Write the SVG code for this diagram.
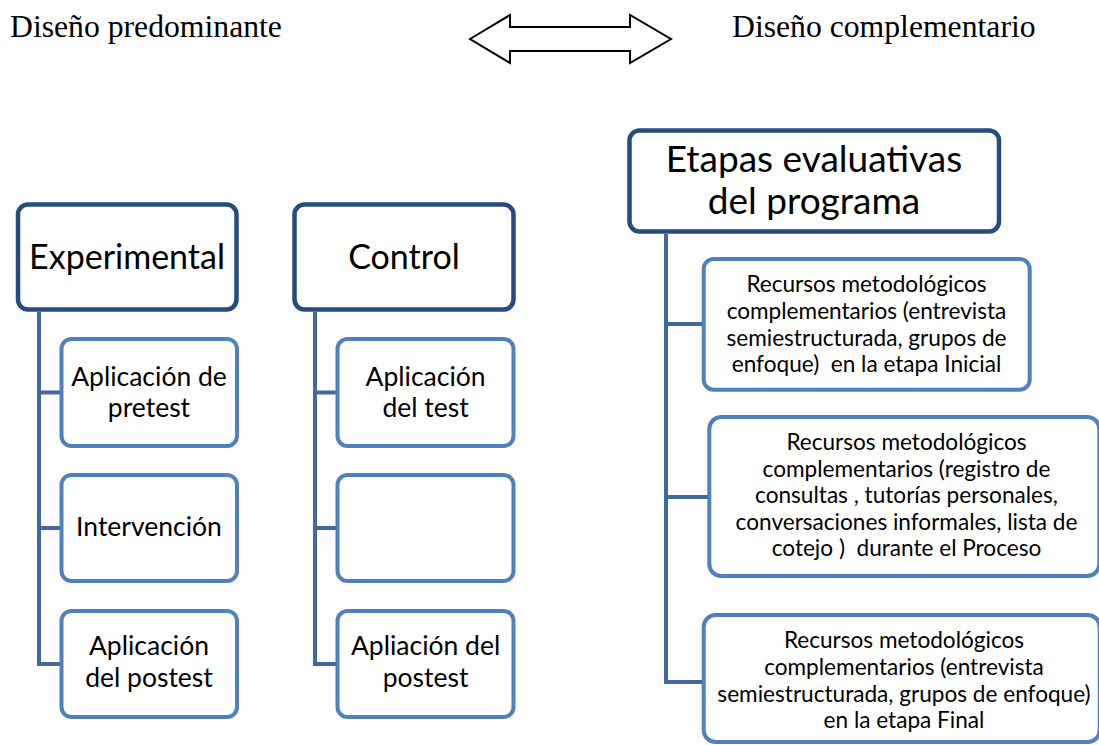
<svg xmlns="http://www.w3.org/2000/svg" width="1099" height="745" viewBox="0 0 1099 745">
<style>
.ttl{font-family:"Liberation Serif","Times New Roman",serif;font-size:31.7px;fill:#000}
.hdr{fill:#fff;stroke:#264b7e;stroke-width:4.5}
.chd{fill:#fff;stroke:#5081bd;stroke-width:4}
.con{fill:none;stroke:#41699e;stroke-width:4;stroke-linejoin:miter}
.t{font-family:Lato,"Noto Sans",sans-serif;fill:#000;text-anchor:middle;white-space:pre}
.big{font-size:34px}
.mid{font-size:26.5px}
.sm{font-size:22.6px}
</style>
<rect width="1099" height="745" fill="#fff"/>
<text class="ttl" x="10" y="37">Diseño predominante</text>
<text class="ttl" x="732" y="37" font-size="32.4">Diseño complementario</text>
<polygon points="470,39 510,15 510,27 630,27 630,15 671,39 630,63 630,51 510,51 510,63" fill="#fff" stroke="#000" stroke-width="2" stroke-linejoin="miter"/>

<g id="connectors">
<path class="con" d="M39,312 V664 H62 M39,392.5 H62 M39,528 H62"/>
<path class="con" d="M315,312 V664 H338 M315,392.5 H338 M315,528 H338"/>
<path class="con" d="M666,234 V682 H704 M666,324 H704 M666,497 H710"/>
</g>

<g id="experimental">
<rect class="hdr" x="18" y="204.5" width="218.5" height="105" rx="10"/>
<text class="t big" x="127" y="269">Experimental</text>
</g>
<g id="control">
<rect class="hdr" x="294.5" y="204.5" width="219" height="105" rx="10"/>
<text class="t big" x="404" y="269">Control</text>
</g>
<g id="exp-pretest">
<rect class="chd" x="61.5" y="339" width="175.5" height="107" rx="10"/>
<text class="t mid" x="149" y="385.5">Aplicación de</text>
<text class="t mid" x="149" y="416.6">pretest</text>
</g>
<g id="exp-intervencion">
<rect class="chd" x="61.5" y="475" width="175.5" height="106" rx="10"/>
<text class="t mid" x="149" y="536">Intervención</text>
</g>
<g id="exp-postest">
<rect class="chd" x="61.5" y="611" width="175.5" height="106" rx="10"/>
<text class="t mid" x="149" y="655">Aplicación</text>
<text class="t mid" x="149" y="686.5">del postest</text>
</g>
<g id="ctl-test">
<rect class="chd" x="337.5" y="339" width="176" height="107" rx="10"/>
<text class="t mid" x="425.6" y="385.5">Aplicación</text>
<text class="t mid" x="425.6" y="416.6">del test</text>
</g>
<g id="ctl-empty">
<rect class="chd" x="337.5" y="475" width="176" height="106" rx="10"/>
</g>
<g id="ctl-postest">
<rect class="chd" x="337.5" y="611" width="176" height="106" rx="10"/>
<text class="t mid" x="425.6" y="655">Apliación del</text>
<text class="t mid" x="425.6" y="686.5">postest</text>
</g>

<g id="etapas">
<rect class="hdr" x="629.5" y="130.5" width="369.5" height="101" rx="10"/>
<text class="t" font-size="37" x="814" y="171.7">Etapas evaluativas</text>
<text class="t" font-size="37" x="814" y="214">del programa</text>
</g>
<g id="inicial">
<rect class="chd" x="703.7" y="259" width="326" height="130.7" rx="10"/>
<text class="t sm" x="866.5" y="291.7">Recursos metodológicos</text>
<text class="t sm" x="866.5" y="319">complementarios (entrevista</text>
<text class="t sm" x="866.5" y="345.7">semiestructurada, grupos de</text>
<text class="t sm" x="866.5" y="372.3">enfoque)  en la etapa Inicial</text>
</g>
<g id="proceso">
<rect class="chd" x="709.3" y="417" width="390" height="159" rx="12"/>
<text class="t sm" x="906.5" y="450">Recursos metodológicos</text>
<text class="t sm" x="906.5" y="477.3">complementarios (registro de</text>
<text class="t sm" x="906.5" y="503.3">consultas , tutorías personales,</text>
<text class="t sm" x="906.5" y="530">conversaciones informales, lista de</text>
<text class="t sm" x="906.5" y="556">cotejo )  durante el Proceso</text>
</g>
<g id="final">
<rect class="chd" x="703.7" y="615" width="396" height="127" rx="12"/>
<text class="t sm" x="904" y="648.3">Recursos metodológicos</text>
<text class="t sm" x="904" y="675">complementarios (entrevista</text>
<text class="t sm" x="904" y="701.7">semiestructurada, grupos de enfoque)</text>
<text class="t sm" x="904" y="728.3">en la etapa Final</text>
</g>
</svg>
